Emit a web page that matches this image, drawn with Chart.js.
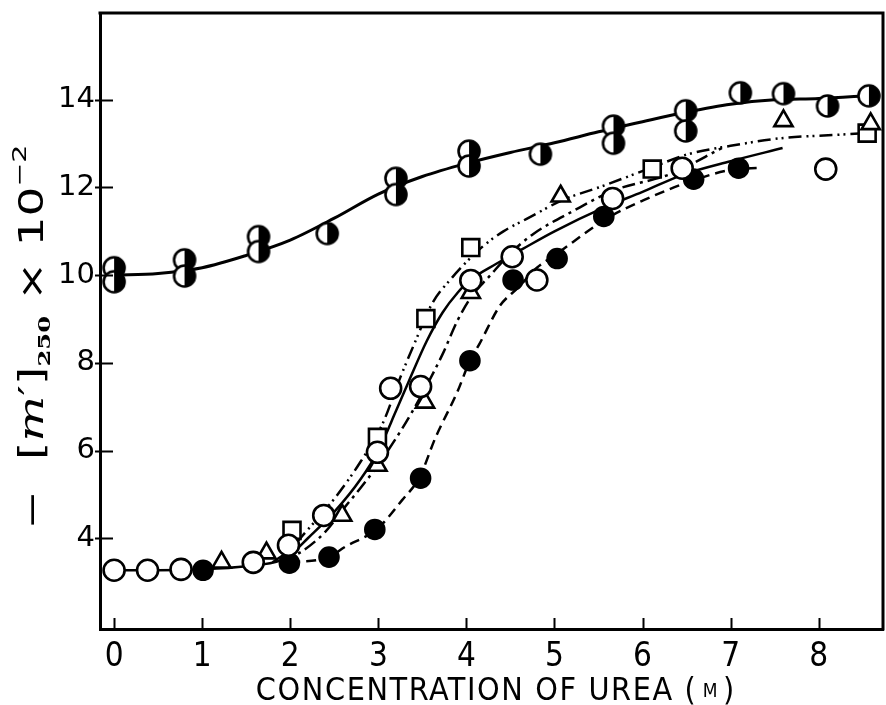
<!DOCTYPE html>
<html>
<head>
<meta charset="utf-8">
<script src="https://cdn.jsdelivr.net/npm/chart.js@4/dist/chart.umd.min.js"></script>
<style>
  html, body { margin: 0; padding: 0; background: #fff; }
  canvas { display: block; }
</style>
</head>
<body>
<canvas id="c" width="886" height="705"></canvas>
<script>
// Axis tick values
const xTicks = [0, 1, 2, 3, 4, 5, 6, 7, 8];
const yTicks = [4, 6, 8, 10, 12, 14];

// Half-filled circles (upper set)
const halfX = [0, 0, 0.8, 0.8, 1.64, 1.64, 2.42, 3.2, 3.2, 4.03, 4.03, 4.84, 5.67, 5.67, 6.49, 6.49, 7.11, 7.6, 8.1, 8.57];
const halfY = [10.17, 9.85, 10.35, 9.98, 10.88, 10.54, 10.95, 12.21, 11.84, 12.83, 12.49, 12.76, 13.4, 13.01, 13.75, 13.29, 14.16, 14.14, 13.86, 14.09];

// Open circles
const openX = [0, 0.38, 0.76, 1.58, 1.98, 2.38, 2.99, 3.14, 3.48, 4.05, 4.52, 4.8, 5.66, 6.45, 8.08];
const openY = [3.27, 3.27, 3.29, 3.45, 3.84, 4.52, 5.96, 7.42, 7.46, 9.88, 10.42, 9.89, 11.75, 12.44, 12.42];

// Filled circles
const filledX = [1.01, 1.99, 2.44, 2.96, 3.48, 4.04, 4.53, 5.03, 5.56, 6.58, 7.09];
const filledY = [3.27, 3.43, 3.57, 4.2, 5.37, 8.05, 9.89, 10.38, 11.34, 12.19, 12.44];

// Open triangles
const triX = [1.22, 1.73, 2.59, 2.99, 3.53, 4.05, 5.07, 7.6, 8.59];
const triY = [3.45, 3.66, 4.52, 5.66, 7.1, 9.6, 11.8, 13.52, 13.45];

// Open squares
const sqX = [2.02, 2.99, 3.54, 4.05, 6.11, 8.55];
const sqY = [4.18, 6.3, 9.01, 10.63, 12.42, 13.24];

// Drawn curves
const topCurveX = [0, 0.5, 1.0, 1.5, 2.0, 2.5, 3.0, 3.5, 4.0, 4.5, 5.0, 5.5, 6.0, 6.5, 7.0, 7.5, 8.0, 8.6];
const topCurveY = [10.0, 10.04, 10.17, 10.45, 10.8, 11.3, 11.85, 12.25, 12.55, 12.8, 13.02, 13.27, 13.5, 13.72, 13.9, 14.0, 14.03, 14.1];

const solidCurveX = [0, 0.5, 1.0, 1.5, 1.9, 2.0, 2.2, 2.5, 2.8, 3.0, 3.2, 3.35, 3.55, 3.73, 3.9, 4.05, 4.34, 4.64, 5.0, 5.56, 6.0, 6.47, 7.0, 7.59];
const solidCurveY = [3.27, 3.27, 3.29, 3.36, 3.5, 3.62, 4.0, 4.6, 5.35, 6.0, 6.9, 7.6, 8.5, 9.15, 9.6, 9.9, 10.26, 10.6, 11.0, 11.54, 11.9, 12.3, 12.6, 12.9];

const dashDotDotX = [1.8, 2.0, 2.2, 2.5, 2.8, 3.05, 3.25, 3.41, 3.61, 3.84, 4.0, 4.2, 4.42, 4.7, 5.1, 5.5, 6.1, 6.5, 7.0, 7.6, 8.2, 8.55];
const dashDotDotY = [3.45, 3.75, 4.2, 4.9, 5.75, 6.62, 7.67, 8.44, 9.35, 9.95, 10.3, 10.68, 11.0, 11.3, 11.72, 12.0, 12.45, 12.75, 12.95, 13.13, 13.2, 13.24];

const dashDotX = [1.9, 2.1, 2.4, 2.62, 2.8, 3.01, 3.27, 3.5, 3.73, 3.9, 4.07, 4.25, 4.5, 4.76, 5.2, 5.67, 6.32, 6.9];
const dashDotY = [3.5, 3.66, 4.15, 4.71, 5.15, 5.71, 6.5, 7.3, 8.2, 8.97, 9.55, 9.95, 10.5, 10.94, 11.45, 11.93, 12.31, 12.9];

const dashedX = [2.0, 2.44, 2.62, 2.99, 3.27, 3.47, 3.65, 3.9, 4.04, 4.15, 4.38, 4.59, 4.8, 5.0, 5.6, 6.0, 6.63, 7.0, 7.35];
const dashedY = [3.45, 3.57, 3.8, 4.22, 4.87, 5.4, 6.3, 7.35, 8.05, 8.44, 9.3, 9.72, 10.17, 10.45, 11.3, 11.7, 12.2, 12.4, 12.45];

const pts = (xs, ys) => xs.map((x, i) => ({ x: x, y: ys[i] }));

// Circle with its right half filled in black
function halfDisc(r, lw) {
  const s = Math.ceil(2 * r + lw + 2);
  const cv = document.createElement('canvas');
  cv.width = s; cv.height = s;
  const g = cv.getContext('2d');
  const c = s / 2;
  g.beginPath(); g.arc(c, c, r, 0, Math.PI * 2); g.fillStyle = '#fff'; g.fill();
  g.beginPath(); g.arc(c, c, r, -Math.PI / 2, Math.PI / 2); g.closePath(); g.fillStyle = '#000'; g.fill();
  g.beginPath(); g.arc(c, c, r, 0, Math.PI * 2); g.lineWidth = lw; g.strokeStyle = '#000'; g.stroke();
  return cv;
}

function curve(xs, ys, dash, width) {
  return {
    type: 'line', data: pts(xs, ys), showLine: true, fill: false,
    borderColor: '#000', borderWidth: width, borderDash: dash,
    pointRadius: 0, cubicInterpolationMode: 'monotone', order: 2
  };
}

function marks(xs, ys, style, radius, bg) {
  return {
    type: 'scatter', data: pts(xs, ys), showLine: false,
    pointStyle: style, pointRadius: radius, pointHoverRadius: radius,
    pointBackgroundColor: bg, pointBorderColor: '#000', pointBorderWidth: 2.6, order: 1
  };
}

const NARROW = '"Liberation Sans Narrow", "DejaVu Sans Condensed", "Liberation Sans", sans-serif';

// Frame, inward tick marks and axis titles
const decor = {
  id: 'decor',
  afterDraw(chart) {
    const ctx = chart.ctx;
    const a = chart.chartArea;
    const xs = chart.scales.x, ys = chart.scales.y;
    ctx.save();
    ctx.strokeStyle = '#000';
    ctx.lineCap = 'square';
    ctx.lineWidth = 3;
    ctx.beginPath();
    ctx.moveTo(a.left, a.top); ctx.lineTo(a.right, a.top); ctx.lineTo(a.right, a.bottom);
    ctx.stroke();
    ctx.lineWidth = 2;
    ctx.lineCap = 'butt';
    ctx.beginPath();
    yTicks.forEach(v => {
      const py = Math.round(ys.getPixelForValue(v)) + 0.5;
      ctx.moveTo(a.left - 5, py); ctx.lineTo(a.left + 13, py);
    });
    xTicks.forEach(v => {
      const px = Math.round(xs.getPixelForValue(v)) + 0.5;
      ctx.moveTo(px, a.bottom); ctx.lineTo(px, a.bottom - 11);
    });
    ctx.stroke();

    // x-axis title
    ctx.fillStyle = '#000';
    ctx.textBaseline = 'alphabetic';
    const xParts = [
      { t: 'CONCENTRATION OF UREA (', f: '32px ' + NARROW, dy: 0, ls: '1.6px' },
      { t: ' M ', f: '19px ' + NARROW, dy: -3, ls: '0px' },
      { t: ')', f: '32px ' + NARROW, dy: 0, ls: '0px' }
    ];
    let tw = 0;
    xParts.forEach(p => { ctx.font = p.f; ctx.letterSpacing = p.ls; p.w = ctx.measureText(p.t).width; tw += p.w; });
    let cx = 495 - tw / 2;
    xParts.forEach(p => { ctx.font = p.f; ctx.letterSpacing = p.ls; ctx.fillText(p.t, cx, 700 + p.dy); cx += p.w; });
    ctx.letterSpacing = '0px';

    // y-axis title, stretched along its reading direction
    ctx.translate(43, 337);
    ctx.rotate(-Math.PI / 2);
    const yParts = [
      { t: '−  [', f: '33px "DejaVu Sans"', dy: 0 },
      { t: 'm', f: 'italic 34px "DejaVu Serif"', dy: 0 },
      { t: '′]', f: '33px "DejaVu Sans"', dy: 0 },
      { t: '250', f: 'bold 17px "DejaVu Serif"', dy: 7 },
      { t: ' × 10', f: '33px "DejaVu Sans"', dy: 0 },
      { t: '−2', f: '20px "DejaVu Sans"', dy: -17 }
    ];
    tw = 0;
    yParts.forEach(p => { ctx.font = p.f; p.w = ctx.measureText(p.t).width; tw += p.w; });
    const sx = 385 / tw;
    ctx.scale(sx, 1);
    cx = -tw / 2;
    yParts.forEach(p => { ctx.font = p.f; ctx.fillText(p.t, cx, p.dy); cx += p.w; });
    ctx.restore();
  }
};

new Chart(document.getElementById('c'), {
  type: 'scatter',
  data: {
    datasets: [
      marks(halfX, halfY, halfDisc(10.5, 2.6), 11, '#fff'),
      marks(openX, openY, 'circle', 10.5, '#fff'),
      marks(filledX, filledY, 'circle', 9.5, '#000'),
      marks(triX, triY, 'triangle', 10.5, '#fff'),
      marks(sqX, sqY, 'rect', 12, '#fff'),
      curve(topCurveX, topCurveY, [], 3),
      curve(solidCurveX, solidCurveY, [], 2.5),
      curve(dashDotDotX, dashDotDotY, [13, 5, 2, 4, 2, 5], 2.5),
      curve(dashDotX, dashDotY, [13, 5, 3, 5], 2.5),
      curve(dashedX, dashedY, [10, 6], 2.5)
    ]
  },
  options: {
    responsive: false,
    animation: false,
    devicePixelRatio: 1,
    layout: { autoPadding: false, padding: { top: 13, right: 3, left: 0, bottom: 0 } },
    plugins: { legend: { display: false }, tooltip: { enabled: false } },
    scales: {
      x: {
        type: 'linear', min: -0.16, max: 8.73,
        afterBuildTicks: s => { s.ticks = xTicks.map(v => ({ value: v })); },
        afterFit: s => { s.height = 76; s.paddingLeft = 0; s.paddingRight = 0; },
        grid: { display: false, drawTicks: false },
        border: { display: true, color: '#000', width: 3 },
        ticks: { color: '#000', padding: 9, font: { family: NARROW, size: 33 } },
        title: { display: false }
      },
      y: {
        type: 'linear', min: 1.93, max: 15.98,
        afterBuildTicks: s => { s.ticks = yTicks.map(v => ({ value: v })); },
        afterFit: s => { s.width = 100; s.paddingTop = 0; s.paddingBottom = 0; },
        grid: { display: false, drawTicks: false },
        border: { display: true, color: '#000', width: 3 },
        ticks: { color: '#000', padding: 5, font: { family: '"DejaVu Sans"', size: 29, lineHeight: 0.8 } },
        title: { display: false }
      }
    }
  },
  plugins: [decor]
});
</script>
</body>
</html>
